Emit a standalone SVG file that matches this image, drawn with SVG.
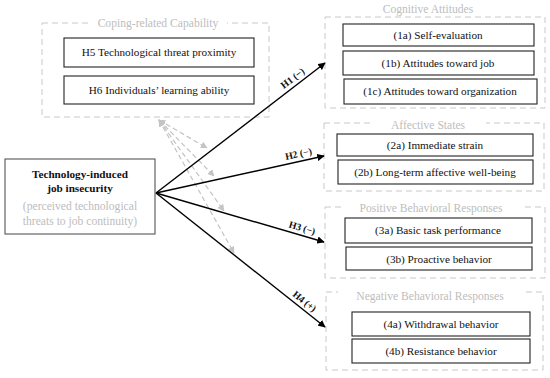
<svg xmlns="http://www.w3.org/2000/svg" width="550" height="378" viewBox="0 0 550 378">
<defs>
<marker id="ah" viewBox="0 0 10 10" refX="9" refY="5" markerWidth="7.5" markerHeight="7.5" orient="auto" markerUnits="userSpaceOnUse">
<path d="M0,0 L10,5 L0,10 z" fill="#000"/>
</marker>
<marker id="gh" viewBox="0 0 10 10" refX="9" refY="5" markerWidth="7" markerHeight="7" orient="auto-start-reverse" markerUnits="userSpaceOnUse">
<path d="M0,0 L10,5 L0,10 z" fill="#c4c4c4"/>
</marker>
<style>
.grp{fill:none;stroke:#c8c8c8;stroke-width:1;stroke-dasharray:6 4}
.box{fill:#fff;stroke:#222;stroke-width:1.1}
text{font-family:'Liberation Serif','Times New Roman',Times,serif}
.t{font-size:11.2px;fill:#111;text-anchor:middle}
.gt{font-size:11.6px;fill:#bdbdbd;text-anchor:middle}
.lbl{font-size:9.8px;font-weight:bold;fill:#111;text-anchor:middle}
.edge{stroke:#000;stroke-width:1.4;fill:none;marker-end:url(#ah)}
.gedge{stroke:#c4c4c4;stroke-width:1.2;fill:none;stroke-dasharray:5 3;marker-end:url(#gh);marker-start:url(#gh)}
</style>
</defs>
<rect width="550" height="378" fill="#fff"/>

<g id="coping">
<rect class="grp" x="42" y="23" width="227" height="94"/>
<rect x="90" y="16" width="137" height="14" fill="#fff"/>
<text class="gt" x="158" y="27">Coping-related Capability</text>
<rect class="box" x="64" y="38" width="190" height="29"/>
<text class="t" x="159" y="56">H5 Technological threat proximity</text>
<rect class="box" x="64" y="76" width="190" height="28"/>
<text class="t" x="159" y="94">H6 Individuals’ learning ability</text>
</g>

<g id="cognitive">
<rect class="grp" x="325" y="17" width="220" height="91"/>
<rect x="368" y="3" width="114" height="12" fill="#fff"/>
<text class="gt" x="428" y="13">Cognitive Attitudes</text>
<rect class="box" x="343" y="24" width="191" height="22"/>
<text class="t" x="438" y="39">(1a) Self-evaluation</text>
<rect class="box" x="343" y="51" width="191" height="24"/>
<text class="t" x="438" y="67">(1b) Attitudes toward job</text>
<rect class="box" x="344" y="79" width="193" height="25"/>
<text class="t" x="440" y="95">(1c) Attitudes toward organization</text>
</g>

<g id="affective">
<rect class="grp" x="324" y="123" width="220" height="68"/>
<rect x="370" y="117" width="116" height="14" fill="#fff"/>
<text class="gt" x="428" y="129">Affective States</text>
<rect class="box" x="337" y="134" width="196" height="22"/>
<text class="t" x="435" y="149">(2a) Immediate strain</text>
<rect class="box" x="338" y="160" width="195" height="24"/>
<text class="t" x="435" y="176">(2b) Long-term affective well-being</text>
</g>

<g id="positive">
<rect class="grp" x="325" y="207" width="220" height="71"/>
<rect x="342" y="201" width="180" height="14" fill="#fff"/>
<text class="gt" x="431" y="212">Positive Behavioral Responses</text>
<rect class="box" x="345" y="218" width="187" height="25"/>
<text class="t" x="438" y="234">(3a) Basic task performance</text>
<rect class="box" x="346" y="247" width="186" height="23"/>
<text class="t" x="439" y="263">(3b) Proactive behavior</text>
</g>

<g id="negative">
<rect class="grp" x="326" y="292" width="217" height="78"/>
<rect x="338" y="288" width="184" height="15" fill="#fff"/>
<text class="gt" x="430" y="300">Negative Behavioral Responses</text>
<rect class="box" x="352" y="312" width="178" height="24"/>
<text class="t" x="441" y="328">(4a) Withdrawal behavior</text>
<rect class="box" x="352" y="339" width="178" height="24"/>
<text class="t" x="441" y="355">(4b) Resistance behavior</text>
</g>

<g id="source">
<rect x="5" y="159" width="150" height="75" fill="#fff" stroke="#555" stroke-width="1.1"/>
<text class="t" x="80" y="178" font-weight="bold">Technology-induced</text>
<text class="t" x="80" y="192" font-weight="bold">job insecurity</text>
<text class="gt" x="80" y="210">(perceived technological</text>
<text class="gt" x="80" y="225">threats to job continuity)</text>
</g>

<g id="connectors">
<path class="gedge" d="M159,120 L207,148"/>
<path class="gedge" d="M159,120 L214,176"/>
<path class="gedge" d="M159,120 L224,211"/>
<path class="gedge" d="M159,120 L234,253"/>
<path class="edge" d="M156,193 L325,63"/>
<path class="edge" d="M156,193 L324,156"/>
<path class="edge" d="M156,193 L324,242"/>
<path class="edge" d="M156,193 L325,327"/>
<text class="lbl" transform="translate(297,84) rotate(-37.6) translate(0,-4)">H1 (−)</text>
<text class="lbl" transform="translate(300,161) rotate(-12.4) translate(0,-4)">H2 (−)</text>
<text class="lbl" transform="translate(300,235) rotate(16.3) translate(0,-4)">H3 (−)</text>
<text class="lbl" transform="translate(300,307) rotate(38.4) translate(0,-4)">H4 (+)</text>
</g>
</svg>
